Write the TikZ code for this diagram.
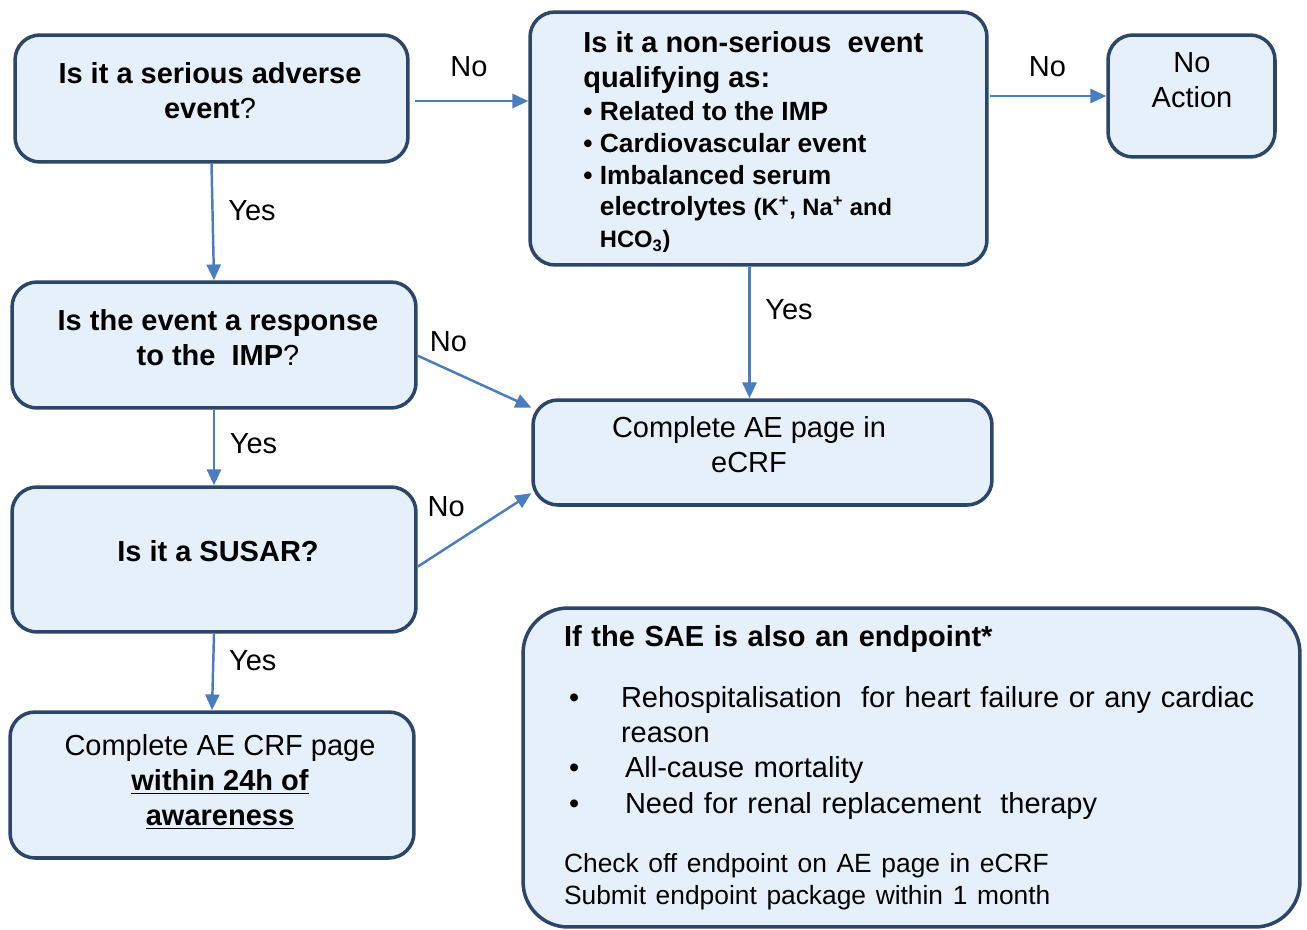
\documentclass[tikz,border=0pt]{standalone}
\usepackage{fontspec}
\setmainfont{Liberation Sans}
\usepackage{tikz}
\usetikzlibrary{arrows.meta,calc}
\definecolor{boxline}{HTML}{2B4668}
\definecolor{boxfill}{HTML}{E6F0FB}
\definecolor{arrowblue}{HTML}{4A7CC0}
\newcommand{\bigtext}{\fontsize{16.5}{20}\selectfont}
\newcommand{\smalltext}{\fontsize{15}{18}\selectfont}

\begin{document}
\begin{tikzpicture}[x=0.02cm, y=-0.02cm,
    box/.style={draw=boxline, fill=boxfill, line width=2pt, rounded corners=0.5cm},
    txt/.style={font=\bigtext, align=center, inner sep=0pt},
    arr/.style={draw=arrowblue, line width=1.4pt, -{Triangle[length=9pt,width=8pt]}},
    lbl/.style={font=\bigtext, text=black}]
    \useasboundingbox (0,0) rectangle (1307,929);
    \node[box, minimum width=7.86cm, minimum height=2.54cm] (sae) at (211.5,98.5) {};
    \node[txt] (saetxt) at (210,90.5) {\textbf{Is it a serious adverse}\\ \textbf{event}?};
    \node[box, minimum width=9.14cm, minimum height=5.06cm] (nonser) at (758.5,138.5) {};
    \node[txt, align=left, anchor=north west] (nonsertxt) at (583,31) {\textbf{Is it a non-serious\ \ event}\\ \textbf{qualifying as:}\\[-1pt]
        {\smalltext\bfseries \textbullet\ Related to the IMP}\\[-2pt]
        {\smalltext\bfseries \textbullet\ Cardiovascular event}\\[-2pt]
        {\smalltext\bfseries \textbullet\ Imbalanced serum}\\[-2pt]
        {\smalltext\bfseries \phantom{\textbullet\ }electrolytes {\fontsize{13.5}{16}\selectfont (K\textsuperscript{+}, Na\textsuperscript{+} and}}\\[-2pt]
        {\smalltext\bfseries \phantom{\textbullet\ }{\fontsize{13.5}{16}\selectfont HCO\textsubscript{3})}}};
    \node[box, minimum width=3.34cm, minimum height=2.44cm] (noaction) at (1191.5,96) {};
    \node[txt] (noactiontxt) at (1192,80) {No\\ Action};
    \node[box, minimum width=8.08cm, minimum height=2.52cm] (resp) at (214,345) {};
    \node[txt] (resptxt) at (218,338) {\textbf{Is the event a response}\\ \textbf{to the\ \ IMP}?};
    \node[box, minimum width=8.08cm, minimum height=2.9cm] (susar) at (214,559.5) {};
    \node[txt] (susartxt) at (218,551) {\textbf{Is it a SUSAR?}};
    \node[box, minimum width=9.18cm, minimum height=2.1cm] (ecrf) at (762.5,452.5) {};
    \node[txt] (ecrftxt) at (749,445) {Complete AE page in\\ eCRF};
    \node[box, minimum width=8.08cm, minimum height=2.92cm] (crf) at (212,785) {};
    \node[txt] (crftxt) at (220,782) {Complete AE CRF page\\ \textbf{\underline{within 24h of}}\\ \textbf{\underline{awareness}}};
    \node[box, minimum width=15.54cm, minimum height=6.38cm, rounded corners=0.9cm, font=\bigtext, align=left, text width=13.9cm] (endpt) at (911.5,767.5) {\textbf{If the SAE is also an endpoint*}\\[15pt]
        \hspace*{0.1cm}\makebox[1.04cm][l]{\textbullet}Rehospitalisation\ \ for heart failure or any cardiac\\
        \hspace*{1.14cm}reason\\
        \hspace*{0.1cm}\makebox[1.12cm][l]{\textbullet}All-cause mortality\\
        \hspace*{0.1cm}\makebox[1.12cm][l]{\textbullet}Need for renal replacement\ \ therapy\\[14pt]
        {\smalltext Check off endpoint on AE page in eCRF}\\[-2pt]
        {\smalltext Submit endpoint package within 1 month}};
    \draw[arr, shorten <=3pt] (sae.east |- 0,101) -- (nonser.west |- 0,101) node[lbl, midway, above=10pt] {No};
    \draw[arr, shorten <=1pt] (nonser.east |- noaction.west) -- (noaction.west) node[lbl, midway, above=7pt] {No};
    \draw[arr] (sae.south) -- (resp.north) node[lbl, pos=0.4, right=5pt] {Yes};
    \draw[arr] ($(nonser.south)+(-9,0)$) -- ($(ecrf.north)+(-13,0)$) node[lbl, pos=0.33, right=5pt] {Yes};
    \draw[arr] (resp.-3) -- (ecrf.169) node[lbl, pos=0.27, above=6pt] {No};
    \draw[arr] (susar.-2) -- (ecrf.190) node[lbl, pos=0.25, above=14pt] {No};
    \draw[arr] (resp.south) -- (susar.north) node[lbl, pos=0.45, right=5pt] {Yes};
    \draw[arr] (susar.south) -- (crf.north) node[lbl, pos=0.35, right=5pt] {Yes};
\end{tikzpicture}
\end{document}
